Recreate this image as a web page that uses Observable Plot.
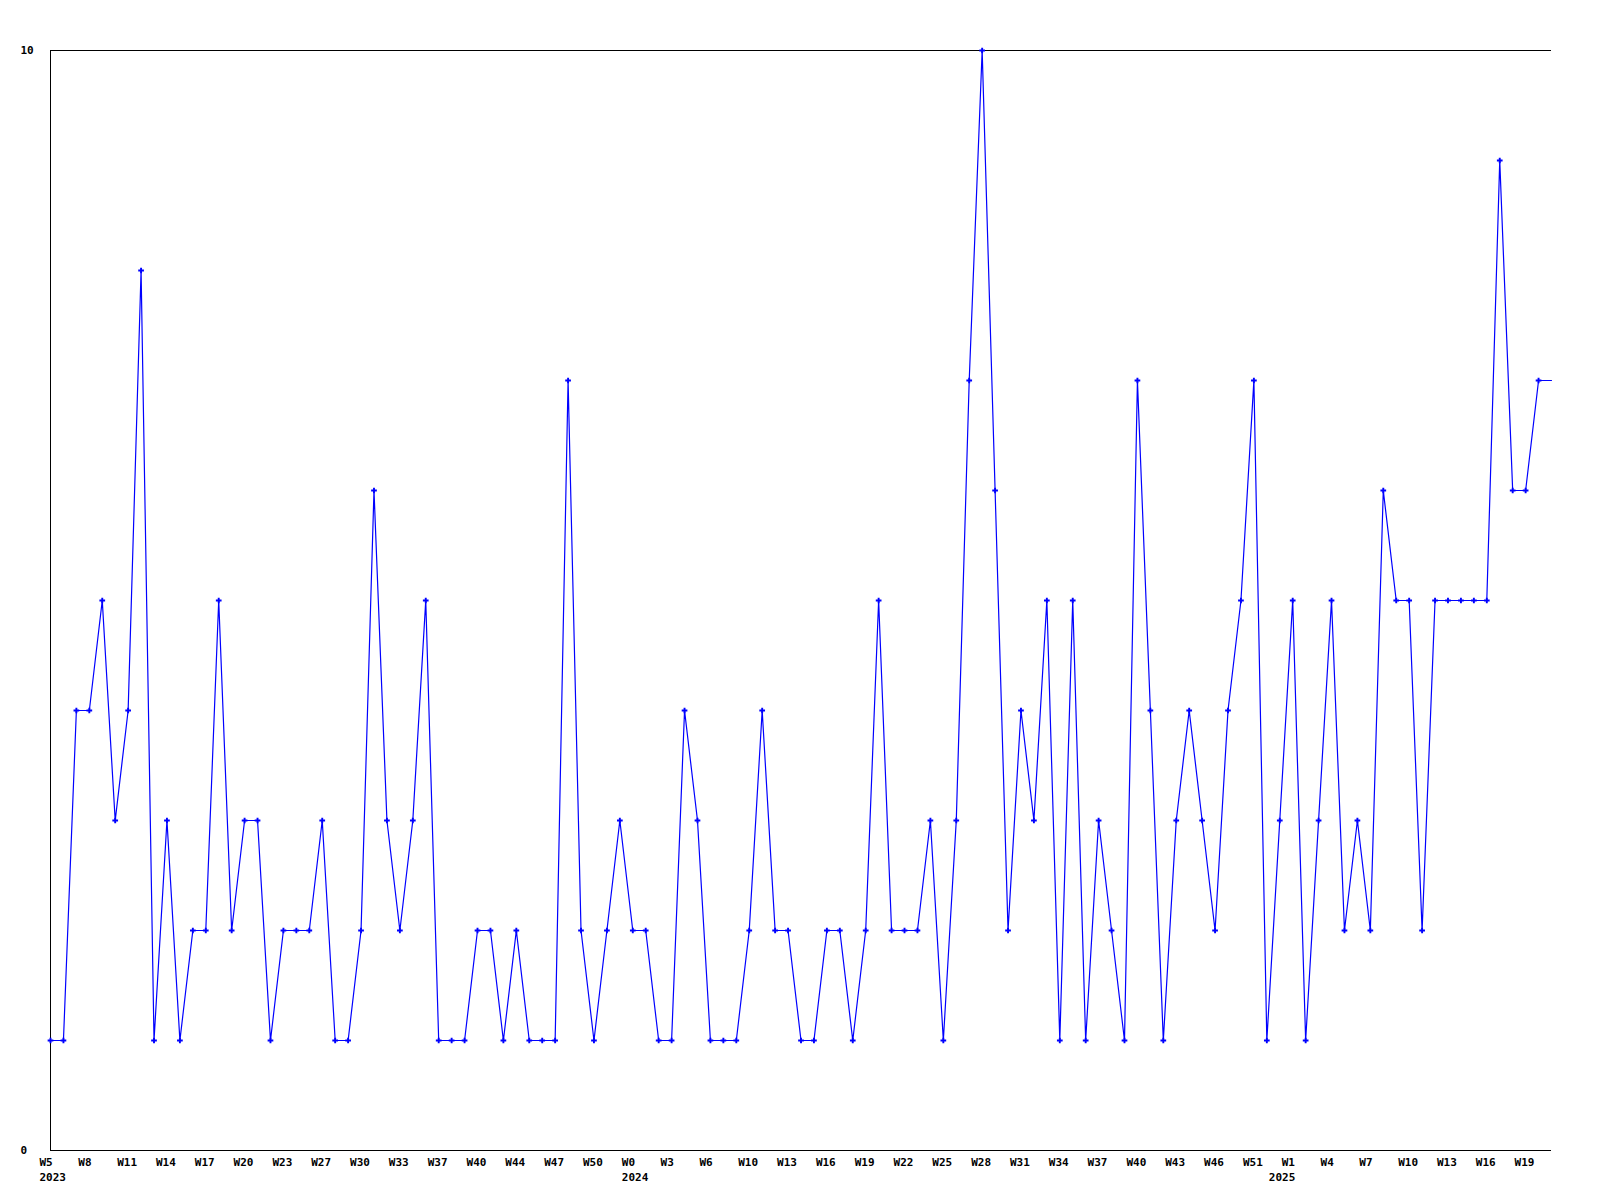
<!DOCTYPE html>
<html>
<head>
<meta charset="utf-8">
<script src="https://cdn.jsdelivr.net/npm/d3@7"></script>
<script src="https://cdn.jsdelivr.net/npm/@observablehq/plot@0.6"></script>
<style>
  html, body { margin: 0; padding: 0; background: #ffffff; }
  #chart { width: 1600px; height: 1200px; }
</style>
</head>
<body>
<div id="chart"></div>
<script>
// Weekly counts (one point per recorded week); the last entry is the open, unmarked week
const values = [
  1, 1, 4, 4, 5, 3, 4, 8, 1, 3, 1, 2, 2, 5, 2, 3, 3, 1, 2, 2,
  2, 3, 1, 1, 2, 6, 3, 2, 3, 5, 1, 1, 1, 2, 2, 1, 2, 1, 1, 1,
  7, 2, 1, 2, 3, 2, 2, 1, 1, 4, 3, 1, 1, 1, 2, 4, 2, 2, 1, 1,
  2, 2, 1, 2, 5, 2, 2, 2, 3, 1, 3, 7, 10, 6, 2, 4, 3, 5, 1, 5,
  1, 3, 2, 1, 7, 4, 1, 3, 4, 3, 2, 4, 5, 7, 1, 3, 5, 1, 3, 5,
  2, 3, 2, 6, 5, 5, 2, 5, 5, 5, 5, 5, 9, 6, 6, 7, 7
];
const markedCount = 116;

// X tick labels: every third point
const tickIndex = [0, 3, 6, 9, 12, 15, 18, 21, 24, 27, 30, 33, 36, 39, 42, 45, 48, 51, 54, 57,
  60, 63, 66, 69, 72, 75, 78, 81, 84, 87, 90, 93, 96, 99, 102, 105, 108, 111, 114];
const tickLabels = ["W5", "W8", "W11", "W14", "W17", "W20", "W23", "W27", "W30", "W33",
  "W37", "W40", "W44", "W47", "W50", "W0", "W3", "W6", "W10", "W13",
  "W16", "W19", "W22", "W25", "W28", "W31", "W34", "W37", "W40", "W43",
  "W46", "W51", "W1", "W4", "W7", "W10", "W13", "W16", "W19"];

// Year labels under the first week of each year
const yearIndex = [0, 45, 95];
const yearLabels = ["2023", "2024", "2025"];

// Y axis labels
const yTicks = [0, 10];

const points = values.map((v, i) => ({i, v}));
const marked = points.slice(0, markedCount);
const ticks = tickIndex.map((i, k) => ({i, label: tickLabels[k]}));
const years = yearIndex.map((i, k) => ({i, label: yearLabels[k]}));

const blue = "#0000ff";
const font = "'DejaVu Sans Mono', monospace";

const chart = Plot.plot({
  width: 1600,
  height: 1200,
  marginLeft: 50,
  marginRight: 49,
  marginTop: 50,
  marginBottom: 50,
  style: {background: "#ffffff", fontFamily: font, fontSize: "11px", fontWeight: "bold", color: "#000"},
  x: {type: "linear", domain: [0, values.length - 1], axis: null},
  y: {type: "linear", domain: [0, 10], axis: null},
  marks: [
    Plot.ruleY([0, 10], {stroke: "#000", strokeWidth: 1}),
    Plot.ruleX([0], {stroke: "#000", strokeWidth: 1}),
    Plot.line(points, {x: "i", y: "v", stroke: blue, strokeWidth: 1.2, curve: "linear"}),
    Plot.dot(marked, {x: "i", y: "v", symbol: "cross", r: 2.4, fill: blue, stroke: "none"}),
    Plot.text(ticks, {x: "i", y: () => 0, text: "label", textAnchor: "start", dx: -11, dy: 12,
      fill: "#000", fontFamily: font, fontSize: 11, fontWeight: "bold"}),
    Plot.text(years, {x: "i", y: () => 0, text: "label", textAnchor: "start", dx: -11, dy: 27,
      fill: "#000", fontFamily: font, fontSize: 11, fontWeight: "bold"}),
    Plot.text(yTicks, {x: () => 0, y: d => d, text: d => String(d), textAnchor: "start", dx: -30, dy: 0,
      fill: "#000", fontFamily: font, fontSize: 11, fontWeight: "bold"})
  ]
});
document.getElementById("chart").appendChild(chart);
</script>
</body>
</html>
